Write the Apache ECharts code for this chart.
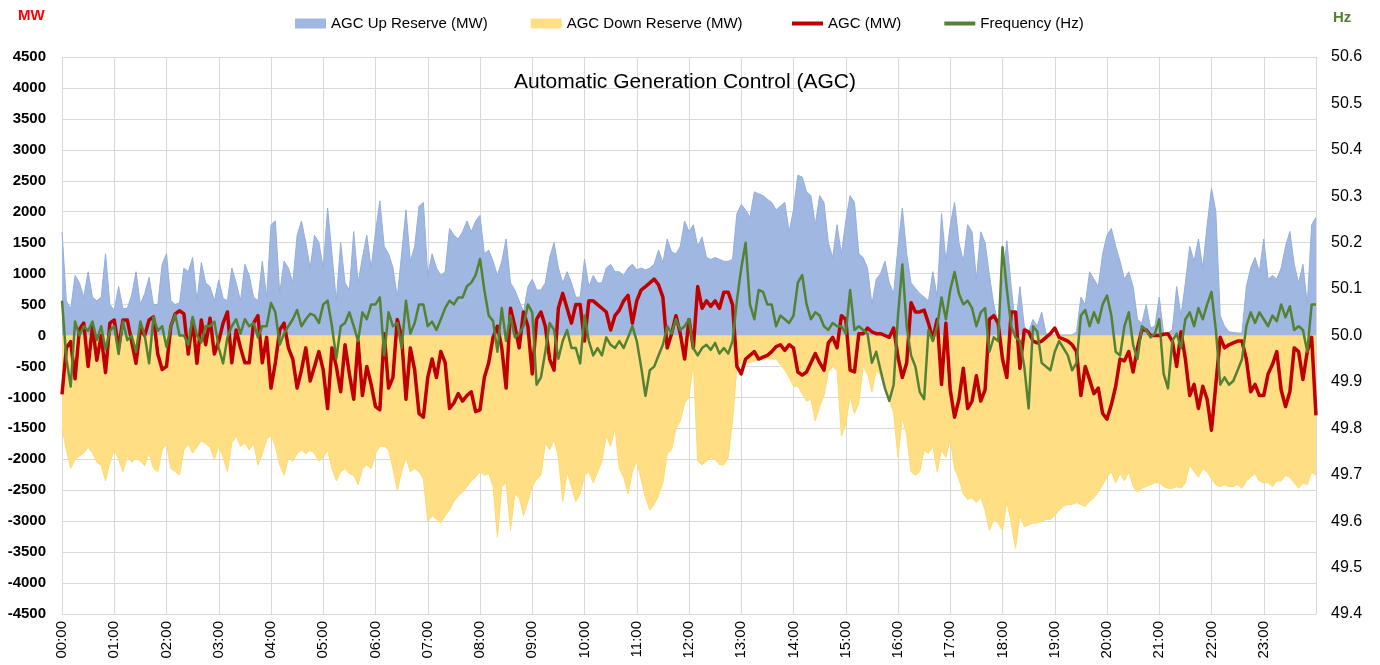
<!DOCTYPE html>
<html><head><meta charset="utf-8">
<script src="https://cdn.jsdelivr.net/npm/echarts@6/dist/echarts.min.js"></script>
<style>html,body{margin:0;padding:0;background:#fff}#c{width:1380px;height:665px}</style>
</head><body><div id="c"></div>
<script>
// Hour tick labels
const hourLabels = ['00:00','01:00','02:00','03:00','04:00','05:00','06:00','07:00','08:00','09:00','10:00','11:00',
  '12:00','13:00','14:00','15:00','16:00','17:00','18:00','19:00','20:00','21:00','22:00','23:00'];

// 5-minute samples, 00:00 .. 24:00 (289 points)
const upReserve = [
  1675,560,430,970,850,620,1030,620,560,620,1320,500,410,790,430,440,650,1030,500,680,940,500,500,1150,1320,560,500,530,1090,1030,1260,560,1180,850,790,560,
  900,600,560,1090,850,560,1150,970,620,560,1200,620,1790,1850,680,1200,1090,850,1620,1850,1500,1090,1620,1500,1090,2060,1320,560,1500,850,735,1680,850,1260,1620,1090,
  1675,2175,1440,1320,1100,620,1320,2030,1200,1440,2090,2150,970,1320,1090,970,1030,1730,1620,1560,1675,1850,1675,1850,1940,1320,1380,1200,970,1200,1560,850,735,560,380,790,
  910,735,735,850,1260,1500,1090,850,1030,850,620,620,1230,790,970,850,850,1090,1150,1030,1030,970,1090,1150,1060,1090,1060,1090,1150,1380,1180,1560,1350,1320,1440,1850,
  1675,1790,1440,1590,1260,1230,1260,1230,1200,1200,1230,1970,2115,2030,1910,2320,2290,2260,2200,2150,2030,2090,2150,1675,2030,2590,2560,2320,2260,1790,2260,2150,1500,1260,1790,1320,
  1850,2260,2150,1320,1260,1090,500,910,1000,1200,850,680,1440,2060,1320,850,760,680,620,560,1030,620,1970,1200,1790,2150,1500,1200,1790,1675,910,1675,1500,970,500,200,
  850,1530,790,150,790,150,60,260,150,380,30,10,10,10,10,10,10,60,620,500,1030,910,790,1320,1620,1730,1440,1200,910,1030,790,260,200,500,120,150,
  620,40,40,90,790,320,850,1440,1200,1560,1090,1790,2380,2000,320,150,60,50,40,40,790,1090,1260,1030,1560,910,970,910,1090,1440,1680,1150,850,1150,500,1790,1910
];
const downReserve = [
  -1500,-1850,-2150,-2000,-1950,-1900,-1800,-1900,-2050,-2100,-2350,-2050,-1850,-2000,-2200,-1950,-2050,-1970,-2030,-2100,-1900,-2150,-2200,-1850,-1750,-2150,-2200,-2250,-1850,-1750,-1900,-1800,-1700,-1750,-1800,-2000,
  -1790,-1970,-2200,-1735,-1620,-1790,-1735,-1850,-1735,-2090,-1910,-1675,-1620,-1790,-2090,-2260,-1970,-2030,-1910,-1850,-1910,-1850,-1910,-2030,-1970,-1850,-2150,-2350,-2200,-2150,-2230,-2260,-2410,-2150,-2090,-2150,
  -1910,-1790,-1790,-1850,-2150,-2500,-2200,-1970,-2200,-2150,-2200,-2320,-3000,-2910,-2970,-3030,-2910,-2820,-2680,-2590,-2530,-2440,-2350,-2290,-2200,-2260,-2230,-2440,-3260,-2440,-2380,-3150,-2560,-2620,-2910,-2680,
  -2440,-2320,-2260,-1735,-1850,-1675,-1970,-2680,-2200,-2440,-2680,-2560,-2260,-2200,-2380,-2200,-2030,-1620,-1790,-1500,-2150,-2290,-2560,-2200,-2030,-2320,-2620,-2820,-2730,-2590,-2380,-1910,-1850,-1500,-1380,-1090,
  -1000,-440,-2030,-2090,-2030,-1970,-2000,-2090,-2090,-1970,-1380,-500,-440,-440,-440,-410,-390,-380,-380,-380,-380,-470,-560,-680,-820,-820,-940,-1060,-1030,-1380,-1150,-970,-590,-500,-560,-1620,
  -1440,-970,-1260,-1090,-500,-620,-910,-560,-650,-850,-1030,-1260,-1970,-1320,-1620,-2200,-2260,-2200,-1850,-1910,-1790,-2200,-1850,-1970,-1675,-2150,-2320,-2560,-2650,-2620,-2700,-2620,-2820,-3150,-2970,-3030,
  -3150,-2680,-3030,-3440,-2910,-3090,-3060,-3030,-3030,-3000,-2970,-2970,-2910,-2820,-2760,-2730,-2730,-2700,-2730,-2760,-2680,-2620,-2530,-2410,-2290,-2200,-2380,-2230,-2350,-2200,-2440,-2530,-2470,-2440,-2410,-2380,
  -2380,-2440,-2470,-2470,-2440,-2470,-2380,-2090,-2200,-2290,-2150,-2200,-2320,-2410,-2440,-2410,-2440,-2440,-2410,-2470,-2350,-2290,-2230,-2350,-2380,-2380,-2440,-2350,-2350,-2260,-2290,-2380,-2470,-2380,-2410,-2200,-2260
];
const agc = [
  -950,-200,-100,-700,100,200,-500,150,-400,0,-600,200,250,-200,250,250,-100,-450,100,0,250,300,-300,-550,-500,150,350,400,350,-300,250,-450,250,-150,280,-300,
  -90,200,380,-440,90,-200,-440,-440,200,320,-440,-30,-850,-440,90,200,-200,-380,-850,-560,-200,-735,-500,-260,-560,-1180,-200,-500,-910,-150,-620,-1030,-90,-970,-500,-790,
  -1150,-1200,30,-850,-680,260,-30,-1030,-200,-560,-1260,-1320,-680,-380,-680,-260,-440,-1180,-1090,-940,-1060,-970,-910,-1230,-1200,-680,-440,-30,150,-200,-850,440,150,-200,380,150,
  -620,260,380,150,-380,-560,440,680,440,200,500,500,-90,560,560,500,440,380,90,320,410,560,650,200,560,735,790,850,910,820,620,-200,30,320,30,-380,
  260,-200,790,440,560,470,560,440,700,700,500,-500,-620,-380,-320,-260,-380,-350,-320,-260,-180,-150,-240,-150,-200,-590,-640,-590,-440,-290,-440,-560,-120,-30,-200,320,
  260,-560,-590,30,30,120,60,30,30,0,-30,120,-350,-680,-440,530,380,380,410,200,-60,260,-790,200,-880,-1320,-1030,-530,-1180,-1060,-650,-1060,-880,260,320,200,
  -380,-680,380,380,-530,90,60,-90,-120,-90,-30,30,120,-30,-60,-90,-150,-260,-970,-500,-710,-940,-850,-1260,-1350,-1120,-820,-380,-410,-260,-590,-200,90,90,0,0,
  0,20,30,-90,-500,60,-380,-970,-790,-1180,-820,-1030,-1530,-790,-30,-200,-150,-120,-90,-90,-380,-910,-790,-970,-970,-620,-470,-260,-880,-1150,-910,-200,-260,-710,-260,-30,-1290
];
const frequency = [
  50.075,49.95,49.89,50.03,50.00,50.02,50.01,50.03,49.99,50.02,49.97,50.01,50.02,49.96,50.03,49.99,50.00,49.965,50.03,50.00,49.94,50.04,50.01,50.02,49.975,50.02,50.045,50.00,50.00,49.98,50.04,50.00,49.985,50.02,50.02,50.03,
  49.973,49.94,49.996,50.02,50.035,50.004,50.035,50.02,50.027,49.996,50.02,50.02,50.07,50.05,49.98,50.004,50.02,50.035,50.055,50.02,50.035,50.047,50.043,50.027,50.067,50.075,50.02,49.95,50.02,50.027,50.05,50.02,49.988,50.05,50.035,50.067,
  50.067,50.082,49.957,50.05,50.02,50.027,49.973,50.075,50.004,50.027,50.067,50.067,50.02,50.03,50.012,50.035,50.059,50.075,50.067,50.082,50.082,50.106,50.114,50.13,50.165,50.098,50.043,50.031,49.965,50.059,49.988,50.043,49.996,50.004,50.02,50.067,
  50.05,49.894,49.91,49.965,50.027,50.012,49.95,49.988,50.012,49.973,49.973,49.94,50.043,49.988,49.957,49.973,49.957,49.996,49.98,49.973,49.988,49.973,49.996,50.02,49.988,49.933,49.87,49.925,49.933,49.957,49.98,50.02,50.004,50.035,50.012,50.02,
  50.035,49.973,49.957,49.973,49.98,49.969,49.984,49.961,49.973,49.961,49.988,50.075,50.145,50.2,50.067,50.035,50.098,50.094,50.067,50.067,50.02,50.043,50.035,50.027,50.043,50.114,50.13,50.067,50.035,50.05,50.043,50.02,50.012,50.027,50.02,50.02,
  50.004,50.098,50.012,50.02,50.012,50.004,49.941,49.965,49.925,49.886,49.859,49.894,50.043,50.153,50.02,49.957,49.933,49.878,49.863,50.012,49.988,50.02,50.082,50.035,50.098,50.137,50.09,50.067,50.075,50.059,50.02,50.05,50.059,49.965,49.996,49.988,
  50.19,50.10,50.02,49.996,49.988,49.933,49.843,50.02,50.008,49.941,49.933,49.925,49.965,49.988,49.973,49.957,49.925,49.941,50.043,50.055,50.02,50.05,50.027,50.067,50.086,50.043,49.965,49.957,50.02,50.05,49.98,49.949,50.02,50.012,49.996,50.004,
  50.035,49.918,49.886,49.988,50.004,49.973,50.035,50.05,50.02,50.059,50.035,50.067,50.094,50.012,49.894,49.91,49.894,49.902,49.925,49.949,50.02,50.05,50.027,50.05,50.035,50.02,50.043,50.031,50.067,50.039,50.063,50.012,50.02,50.012,49.965,50.067,50.067
];

const seriesNames = ['AGC Up Reserve (MW)','AGC Down Reserve (MW)','AGC (MW)','Frequency (Hz)'];
const titleText = 'Automatic Generation Control (AGC)';

// category axis: 5-minute slots from 00:00 to 24:00
const categories = [];
for (let i = 0; i < upReserve.length; i++) {
  const mins = i * 5;
  categories.push(String(Math.floor(mins / 60)).padStart(2, '0') + ':' + String(mins % 60).padStart(2, '0'));
}

const FONT = "'Liberation Sans', Arial, sans-serif";
const GRID = '#D9D9D9';

const chart = echarts.init(document.getElementById('c'), null, {renderer: 'canvas'});
chart.setOption({
  animation: false,
  backgroundColor: '#ffffff',
  title: {
    text: titleText, left: 514, top: 72, padding: 0,
    textStyle: {fontSize: 21, fontWeight: 'normal', color: '#000', fontFamily: FONT}
  },
  legend: [
    {
      left: 295, top: 16, padding: 0, itemWidth: 31, itemHeight: 10, itemGap: 43,
      data: [{name: seriesNames[0], icon: 'rect'}, {name: seriesNames[1], icon: 'rect'}],
      textStyle: {fontSize: 15, color: '#000', fontFamily: FONT}
    },
    {
      left: 792, top: 16, padding: 0, itemWidth: 31, itemHeight: 4, itemGap: 43,
      data: [{name: seriesNames[2], icon: 'rect'}, {name: seriesNames[3], icon: 'rect'}],
      textStyle: {fontSize: 15, color: '#000', fontFamily: FONT}
    }
  ],
  graphic: [
    {type: 'text', left: 18, top: 8, style: {text: 'MW', fill: '#FF0000', font: "bold 15px 'Liberation Sans', Arial, sans-serif"}},
    {type: 'text', left: 1333, top: 10, style: {text: 'Hz', fill: '#548235', font: "bold 15px 'Liberation Sans', Arial, sans-serif"}}
  ],
  grid: {left: 62, right: 64, top: 57, bottom: 51, containLabel: false},
  xAxis: {
    type: 'category', data: categories, boundaryGap: false,
    axisLine: {show: true, onZero: false, lineStyle: {color: GRID}},
    axisTick: {show: false},
    axisLabel: {
      interval: function (i) { return i % 12 === 0 && i < 288; },
      formatter: function (v, i) { return hourLabels[i / 12]; },
      rotate: 90, fontSize: 15, color: '#000', fontFamily: FONT, margin: 7
    },
    splitLine: {show: true, interval: function (i) { return i % 12 === 0; }, lineStyle: {color: GRID, width: 1}}
  },
  yAxis: [
    {
      type: 'value', min: -4500, max: 4500, interval: 500, position: 'left',
      axisLine: {show: false}, axisTick: {show: false},
      axisLabel: {fontSize: 15, fontWeight: 'bold', color: '#000', fontFamily: FONT, margin: 16,
        formatter: function (v) { return String(v); }},
      splitLine: {show: true, lineStyle: {color: GRID, width: 1}}
    },
    {
      type: 'value', min: 49.4, max: 50.6, interval: 0.1, position: 'right',
      axisLine: {show: false}, axisTick: {show: false},
      axisLabel: {fontSize: 16, color: '#000', fontFamily: FONT, margin: 15, formatter: function (v) { return v.toFixed(1); }},
      splitLine: {show: false}
    }
  ],
  series: [
    {
      name: seriesNames[0], type: 'line', data: upReserve, symbol: 'none', z: 1,
      lineStyle: {width: 1, color: '#94AEDD'}, itemStyle: {color: '#A0B7E1'},
      areaStyle: {color: '#A0B7E1', opacity: 1}
    },
    {
      name: seriesNames[1], type: 'line', data: downReserve, symbol: 'none', z: 1,
      lineStyle: {width: 1, color: '#FFD970'}, itemStyle: {color: '#FFDE84'},
      areaStyle: {color: '#FFDE84', opacity: 1}
    },
    {
      name: seriesNames[2], type: 'line', data: agc, symbol: 'none', z: 3,
      lineStyle: {width: 3.5, color: '#C00000', join: 'round'}, itemStyle: {color: '#C00000'}
    },
    {
      name: seriesNames[3], type: 'line', data: frequency, yAxisIndex: 1, symbol: 'none', z: 4,
      lineStyle: {width: 2.5, color: '#548235', join: 'round'}, itemStyle: {color: '#548235'}
    }
  ]
});
</script>
</body></html>
